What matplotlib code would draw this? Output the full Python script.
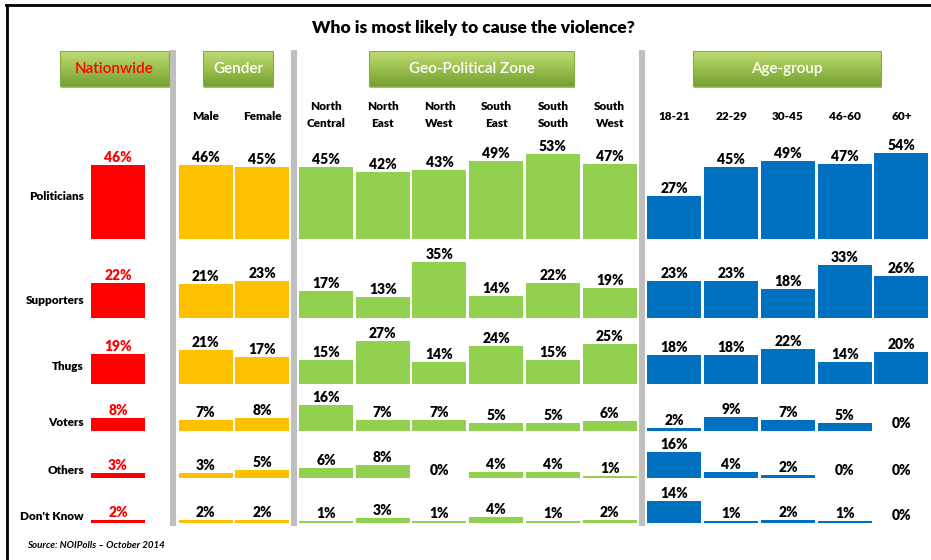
import numpy as np
import matplotlib
matplotlib.use("Agg")
import matplotlib.pyplot as plt
from matplotlib.patches import Rectangle

# ---- data ----
rows = ["Politicians", "Supporters", "Thugs", "Voters", "Others", "Don't Know"]

nationwide = [46, 22, 19, 8, 3, 2]

gender_labels = ["Male", "Female"]
gender = [
    [46, 21, 21, 7, 3, 2],   # Male
    [45, 23, 17, 8, 5, 2],   # Female
]

zone_labels = ["North\nCentral", "North\nEast", "North\nWest",
               "South\nEast", "South\nSouth", "South\nWest"]
zones = [
    [45, 17, 15, 16, 6, 1],
    [42, 13, 27, 7, 8, 3],
    [43, 35, 14, 7, 0, 1],
    [49, 14, 24, 5, 4, 4],
    [53, 22, 15, 5, 4, 1],
    [47, 19, 25, 6, 1, 2],
]

age_labels = ["18-21", "22-29", "30-45", "46-60", "60+"]
ages = [
    [27, 23, 18, 2, 16, 14],
    [45, 23, 18, 9, 4, 1],
    [49, 18, 22, 7, 2, 2],
    [47, 33, 14, 5, 0, 1],
    [54, 26, 20, 0, 0, 0],
]

title = "Who is most likely to cause the violence?"
source = "Source: NOIPolls \u2013 October 2014"

# ---- layout ----
W, H = 931, 560
PX_PER_PCT = 1.6
PITCH = 56.75            # px between neighbouring columns
X0 = 118                 # px centre of the nationwide column
row_base_px = [239, 318, 384, 431, 478, 523]

def py(px):              # pixel row -> data units
    return (H - px) / PX_PER_PCT

def px_x(px):            # pixel column -> data units
    return (px - X0) / PITCH

RED, GOLD, GREEN, BLUE = "#FF0000", "#FFC000", "#92D050", "#0070C0"
GREY = "#BFBFBF"

fig = plt.figure(figsize=(W / 100, H / 100), dpi=100)
ax = fig.add_axes([0, 0, 1, 1])
ax.axis("off")

font = "Lato"
# column positions in pitch units
pos_nat = [0.0]
pos_gen = [1.542 + i for i in range(2)]
pos_zone = [3.665 + i for i in range(6)]
pos_age = [9.806 + i for i in range(5)]

groups = [
    (pos_nat, [nationwide], RED, RED),
    (pos_gen, gender, GOLD, "black"),
    (pos_zone, zones, GREEN, "black"),
    (pos_age, ages, BLUE, "black"),
]

bar_w = 54 / PITCH
for positions, series, color, tcolor in groups:
    for x, vals in zip(positions, series):
        for r, v in enumerate(vals):
            base = py(row_base_px[r])
            ax.bar(x, v, width=bar_w, bottom=base, color=color, linewidth=0)
            ax.text(x, base + v + 0.6, f"{v}%", ha="center", va="bottom",
                    fontsize=10, fontweight="heavy", color=tcolor,
                    family=font)

# row labels
row_label_px = [197, 301, 367, 423, 470, 516]
for lab, ypx in zip(rows, row_label_px):
    ax.text(px_x(84), py(ypx), lab, ha="right", va="center",
            fontsize=8.5, fontweight="heavy", family=font)

# grey separators
for p in [pos_gen[0], pos_zone[0], pos_age[0]]:
    xs = p - 0.565
    ax.add_patch(Rectangle((xs - 3 / PITCH, py(526)), 6 / PITCH,
                           py(50) - py(526), color=GREY, lw=0))

# sub-category labels
for x, lab in zip(pos_gen, gender_labels):
    ax.text(x, py(116), lab, ha="center", va="center", fontsize=8.5,
            fontweight="heavy", family=font)
for x, lab in zip(pos_zone, zone_labels):
    ax.text(x, py(115), lab, ha="center", va="center", fontsize=8.5,
            fontweight="heavy", family=font, linespacing=1.6)
for x, lab in zip(pos_age, age_labels):
    ax.text(x, py(117), lab, ha="center", va="center", fontsize=8.5,
            fontweight="heavy", family=font)

# header buttons with a green gradient
grad = np.linspace(0, 1, 64).reshape(-1, 1)
green_cmap = matplotlib.colors.LinearSegmentedColormap.from_list(
    "btn", ["#BEDC74", "#9CC14F", "#74A031"])
buttons = [("Nationwide", 60, 169, RED),
           ("Gender", 203, 273, "white"),
           ("Geo-Political Zone", 369, 574, "white"),
           ("Age-group", 693, 881, "white")]
for lab, x1, x2, tc in buttons:
    ext = (px_x(x1), px_x(x2), py(86), py(51))
    shadow = Rectangle((px_x(x1 + 1), py(88)), px_x(x2 + 1) - px_x(x1 + 1),
                       py(52) - py(88), color="#B0B0B0", lw=0, zorder=2)
    ax.add_patch(shadow)
    rect = Rectangle((ext[0], ext[2]), ext[1] - ext[0], ext[3] - ext[2],
                     facecolor="none", edgecolor="#86AA44", lw=0.8, zorder=4)
    ax.add_patch(rect)
    im = ax.imshow(grad, extent=ext, aspect="auto", cmap=green_cmap,
                   origin="upper", zorder=3)
    im.set_clip_path(rect)
    ax.text((ext[0] + ext[1]) / 2, py(69), lab, ha="center", va="center",
            fontsize=11, fontweight="semibold", color=tc, family=font,
            zorder=5)

ax.set_xlim(px_x(0), px_x(W))
ax.set_ylim(0, H / PX_PER_PCT)

# title and source
ax.text(px_x(473), py(28), title, ha="center", va="center", fontsize=12.5,
        fontweight="heavy", family=font)
ax.text(px_x(27), py(546), source, ha="left", va="center", fontsize=7,
        fontstyle="italic", fontweight="bold", family=font)

# frame lines (left and top)
ax.plot([px_x(7), px_x(7)], [py(5), py(H)], color="black", lw=2)
ax.plot([px_x(6), px_x(W)], [py(5), py(5)], color="black", lw=2)

fig.savefig("out.png", dpi=100)
